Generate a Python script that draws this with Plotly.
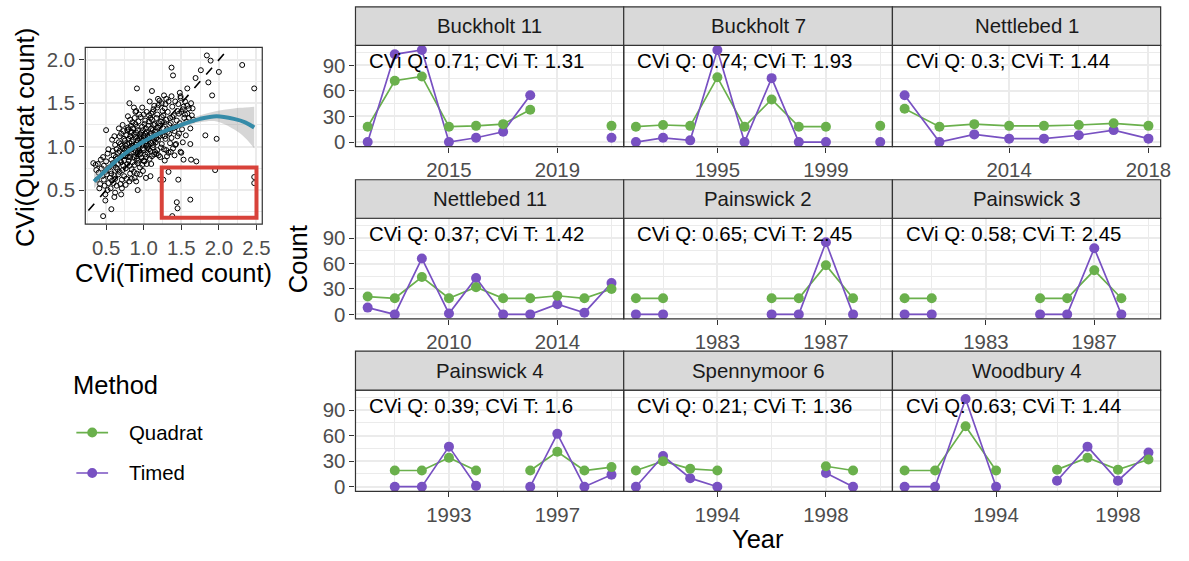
import plotly.graph_objects as go

# ---------------------------------------------------------------- data
SITES = ["Buckholt 11", "Buckholt 7", "Nettlebed 1",
         "Nettlebed 11", "Painswick 2", "Painswick 3",
         "Painswick 4", "Spennymoor 6", "Woodbury 4"]
CVI_Q = [0.71, 0.74, 0.3, 0.37, 0.65, 0.58, 0.39, 0.21, 0.63]
CVI_T = [1.31, 1.93, 1.44, 1.42, 2.45, 2.45, 1.6, 1.36, 1.44]

BUCKHOLT_11_YEARS = [2012, 2013, 2014, 2015, 2016, 2017, 2018, 2019, 2020, 2021]
BUCKHOLT_11_Q = [18, 72, 77, 18, 19, 21, 38, None, None, 19]
BUCKHOLT_11_T = [0, 103, 108, 0, 5, 12, 55, None, None, 5]

BUCKHOLT_7_YEARS = [1992, 1993, 1994, 1995, 1996, 1997, 1998, 1999, 2000, 2001]
BUCKHOLT_7_Q = [18, 20, 19, 76, 18, 50, 18, 18, None, 19]
BUCKHOLT_7_T = [0, 5, 2, 108, 0, 75, 0, 0, None, 0]

NETTLEBED_1_YEARS = [2011, 2012, 2013, 2014, 2015, 2016, 2017, 2018]
NETTLEBED_1_Q = [39, 18, 21, 19, 19, 20, 22, 19]
NETTLEBED_1_T = [55, 0, 9, 4, 4, 8, 14, 4]

NETTLEBED_11_YEARS = [2007, 2008, 2009, 2010, 2011, 2012, 2013, 2014, 2015, 2016]
NETTLEBED_11_Q = [21, 19, 44, 19, 32, 19, 19, 22, 19, 30]
NETTLEBED_11_T = [8, 0, 66, 1, 43, 0, 0, 12, 2, 37]

PAINSWICK_2_YEARS = [1980, 1981, 1982, 1983, 1984, 1985, 1986, 1987, 1988, 1989]
PAINSWICK_2_Q = [19, 19, None, None, None, 19, 19, 58, 19, None]
PAINSWICK_2_T = [0, 0, None, None, None, 0, 0, 85, 0, None]

PAINSWICK_3_YEARS = [1980, 1981, 1982, 1983, 1984, 1985, 1986, 1987, 1988, 1989]
PAINSWICK_3_Q = [19, 19, None, None, None, 19, 19, 52, 19, None]
PAINSWICK_3_T = [0, 0, None, None, None, 0, 0, 78, 0, None]

PAINSWICK_4_YEARS = [1990, 1991, 1992, 1993, 1994, 1995, 1996, 1997, 1998, 1999]
PAINSWICK_4_Q = [None, 19, 19, 34, 19, None, 19, 41, 19, 23]
PAINSWICK_4_T = [None, 0, 0, 47, 1, None, 0, 62, 0, 14]

SPENNYMOOR_6_YEARS = [1991, 1992, 1993, 1994, 1995, 1996, 1997, 1998, 1999, 2000]
SPENNYMOOR_6_Q = [19, 30, 21, 19, None, None, None, 24, 19, None]
SPENNYMOOR_6_T = [0, 36, 10, 0, None, None, None, 16, 0, None]

WOODBURY_4_YEARS = [1991, 1992, 1993, 1994, 1995, 1996, 1997, 1998, 1999]
WOODBURY_4_Q = [19, 19, 71, 19, None, 20, 34, 20, 32]
WOODBURY_4_T = [0, 0, 103, 0, None, 7, 47, 7, 40]

YEAR_TICKS = [[2015, 2019], [1995, 1999], [2014, 2018],
              [2010, 2014], [1983, 1987], [1983, 1987],
              [1993, 1997], [1994, 1998], [1994, 1998]]
COUNT_TICKS = [0, 30, 60, 90]

# CVi per site: (timed count, quadrat count)
CVI_PAIRS = [
    (1.84, 2.05), (1.89, 1.99), (2.31, 1.94), (1.37, 1.91), (1.39, 1.82), (1.76, 1.88),
    (2.47, 1.67), (2.00, 1.86), (1.86, 1.74), (0.91, 1.67), (1.11, 1.64), (1.69, 1.79),
    (1.58, 1.67), (1.27, 1.59), (1.91, 1.59), (1.49, 1.58),
    (1.82, 1.13), (1.97, 1.09), (1.62, 1.03), (1.53, 0.85), (1.63, 0.85), (1.70, 0.83),
    (1.33, 0.71), (1.95, 0.73), (1.22, 0.62), (1.26, 0.62), (1.46, 0.62), (2.47, 0.65),
    (2.47, 0.58), (1.44, 0.36), (1.45, 0.29), (1.62, 0.39), (1.38, 0.20),
    (0.76, 0.56), (0.46, 0.20), (0.57, 0.28), (0.49, 0.38), (0.61, 0.42), (0.70, 0.45),
    (0.92, 0.50), (0.33, 0.81), (0.39, 0.80), (0.50, 1.19), (0.81, 1.50), (0.89, 1.40),
    (0.36, 0.79), (0.38, 0.62), (0.40, 0.70), (0.42, 0.57), (0.44, 0.75), (0.45, 0.66),
    (0.37, 0.73), (0.43, 0.85), (0.41, 0.52),
    (0.47, 0.62), (0.48, 0.55), (0.49, 0.71), (0.50, 0.83), (0.51, 0.68), (0.52, 0.92),
    (0.53, 0.58), (0.54, 0.76), (0.46, 0.88), (0.52, 0.50), (0.55, 0.64), (0.49, 0.45),
    (0.53, 0.97), (0.47, 0.78),
    (0.56, 0.72), (0.57, 0.85), (0.58, 0.61), (0.59, 0.95), (0.60, 0.79), (0.61, 0.67),
    (0.62, 1.02), (0.63, 0.88), (0.64, 0.55), (0.65, 0.74), (0.56, 0.52), (0.58, 1.08),
    (0.60, 0.90), (0.62, 0.63), (0.64, 0.97), (0.57, 0.69), (0.59, 0.81), (0.61, 1.12),
    (0.63, 0.76), (0.65, 0.86), (0.60, 0.58), (0.62, 0.47),
    (0.66, 0.93), (0.67, 1.05), (0.68, 0.71), (0.69, 0.84), (0.70, 1.15), (0.71, 0.62),
    (0.72, 0.98), (0.73, 0.78), (0.74, 1.09), (0.75, 0.89), (0.66, 0.68), (0.67, 1.21),
    (0.68, 0.95), (0.69, 0.57), (0.70, 0.82), (0.71, 1.01), (0.72, 0.73), (0.73, 1.18),
    (0.74, 0.66), (0.75, 0.96), (0.68, 1.12), (0.70, 0.88), (0.72, 1.25), (0.74, 0.84),
    (0.66, 0.80), (0.71, 0.52), (0.73, 0.92), (0.69, 1.03), (0.75, 1.07),
    (0.76, 0.75), (0.77, 1.13), (0.78, 0.92), (0.79, 1.22), (0.80, 0.84), (0.81, 1.04),
    (0.82, 0.69), (0.83, 1.16), (0.84, 0.97), (0.85, 1.28), (0.76, 1.01), (0.77, 0.63),
    (0.78, 1.19), (0.79, 0.88), (0.80, 1.09), (0.81, 0.78), (0.82, 1.31), (0.83, 0.93),
    (0.84, 1.06), (0.85, 0.82), (0.76, 0.90), (0.78, 1.03), (0.80, 0.96), (0.82, 1.12),
    (0.84, 0.74), (0.79, 1.35), (0.81, 0.60), (0.83, 1.24), (0.77, 0.98), (0.85, 1.01),
    (0.80, 1.20), (0.82, 0.88), (0.78, 0.80), (0.84, 1.17),
    (0.86, 0.94), (0.87, 1.14), (0.88, 0.79), (0.89, 1.26), (0.90, 1.02), (0.91, 0.86),
    (0.92, 1.19), (0.93, 0.99), (0.94, 1.37), (0.95, 0.91), (0.86, 1.08), (0.87, 0.71),
    (0.88, 1.33), (0.89, 0.96), (0.90, 1.16), (0.91, 1.04), (0.92, 0.81), (0.93, 1.29),
    (0.94, 1.10), (0.95, 0.76), (0.86, 1.21), (0.88, 1.00), (0.90, 0.89), (0.92, 1.07),
    (0.94, 0.95), (0.87, 0.88), (0.89, 1.11), (0.91, 1.23), (0.93, 0.84), (0.95, 1.14),
    (0.88, 0.64), (0.90, 1.41), (0.92, 0.93), (0.94, 1.02), (0.86, 0.99), (0.91, 0.69),
    (0.87, 1.45), (0.90, 0.60), (0.95, 0.68), (0.84, 0.63),
    (0.96, 1.05), (0.97, 0.87), (0.98, 1.23), (0.99, 0.98), (1.00, 1.12), (1.01, 0.83),
    (1.02, 1.30), (1.03, 1.01), (1.04, 1.17), (1.05, 0.93), (0.96, 1.34), (0.97, 1.09),
    (0.98, 0.79), (0.99, 1.19), (1.00, 0.96), (1.01, 1.26), (1.02, 1.06), (1.03, 0.88),
    (1.04, 1.40), (1.05, 1.13), (0.96, 0.93), (0.98, 1.02), (1.00, 1.37), (1.02, 0.91),
    (1.04, 1.03), (0.97, 1.16), (0.99, 0.72), (1.01, 1.08), (1.03, 1.21), (1.05, 0.99),
    (1.00, 0.84), (1.02, 1.15), (0.98, 1.45), (1.04, 0.80), (0.96, 1.12), (1.03, 0.64),
    (1.06, 1.24), (1.07, 0.97), (1.08, 1.13), (1.09, 1.33), (1.10, 1.04), (1.11, 0.89),
    (1.12, 1.19), (1.13, 1.43), (1.14, 1.08), (1.15, 0.94), (1.06, 1.01), (1.07, 1.29),
    (1.08, 0.86), (1.09, 1.15), (1.10, 1.38), (1.11, 1.10), (1.12, 0.99), (1.13, 1.25),
    (1.14, 1.47), (1.15, 1.17), (1.06, 1.11), (1.08, 1.52), (1.10, 1.21), (1.12, 1.06),
    (1.14, 0.91), (1.07, 1.36), (1.09, 0.95), (1.11, 1.31), (1.13, 1.02), (1.15, 1.26),
    (1.10, 0.80), (1.12, 1.40), (1.09, 0.66),
    (1.16, 1.05), (1.17, 1.33), (1.18, 0.96), (1.19, 1.22), (1.20, 1.48), (1.21, 1.12),
    (1.22, 0.88), (1.23, 1.29), (1.24, 1.03), (1.25, 1.41), (1.16, 1.19), (1.17, 0.92),
    (1.18, 1.37), (1.19, 1.08), (1.20, 1.27), (1.21, 1.53), (1.22, 1.16), (1.23, 0.99),
    (1.24, 1.34), (1.25, 1.13), (1.18, 1.45), (1.20, 0.90), (1.22, 1.24), (1.24, 1.50),
    (1.17, 1.10), (1.19, 1.55),
    (1.26, 1.21), (1.27, 0.97), (1.28, 1.44), (1.29, 1.09), (1.30, 1.31), (1.31, 0.89),
    (1.32, 1.17), (1.33, 1.52), (1.34, 1.25), (1.35, 1.04), (1.26, 1.36), (1.28, 1.12),
    (1.30, 0.96), (1.32, 1.40), (1.34, 1.15), (1.27, 1.28), (1.29, 1.49), (1.31, 1.20),
    (1.33, 0.93), (1.35, 1.33), (1.28, 0.84), (1.30, 1.55),
    (1.36, 1.27), (1.37, 1.10), (1.38, 1.46), (1.39, 0.98), (1.40, 1.36), (1.41, 1.18),
    (1.42, 1.52), (1.43, 1.03), (1.44, 1.30), (1.45, 1.41), (1.37, 1.58), (1.39, 1.21),
    (1.41, 0.90), (1.43, 1.23), (1.45, 1.12), (1.38, 1.34), (1.42, 1.02), (1.36, 0.94),
    (1.46, 1.49), (1.48, 1.27), (1.50, 1.40), (1.52, 1.05), (1.54, 1.33), (1.47, 1.15),
    (1.49, 1.56), (1.51, 1.20), (1.53, 1.46), (1.55, 1.37), (1.50, 0.93), (1.48, 1.62),
    (1.52, 1.43), (1.47, 1.38), (1.49, 0.94),
    (1.57, 1.29), (1.60, 1.44), (1.63, 1.50), (1.58, 1.38), (1.62, 1.21), (1.66, 1.31),
    (1.56, 1.13), (1.65, 1.44), (1.58, 1.47), (1.64, 1.36), (1.55, 1.52), (1.60, 1.33),
]

# loess fit of quadrat CVi on timed CVi, with its 95% band
LOESS_X = [0.34, 0.50, 0.65, 0.80, 1.00, 1.15, 1.31, 1.53, 1.75, 1.97, 2.20, 2.35, 2.47]
LOESS_Y = [0.60, 0.73, 0.85, 0.95, 1.06, 1.13, 1.19, 1.26, 1.32, 1.35, 1.32, 1.28, 1.22]
LOESS_LOW = [0.52, 0.68, 0.82, 0.93, 1.04, 1.11, 1.17, 1.23, 1.28, 1.29, 1.20, 1.10, 0.98]
LOESS_HIGH = [0.69, 0.78, 0.88, 0.97, 1.08, 1.15, 1.21, 1.29, 1.36, 1.41, 1.44, 1.45, 1.46]

# outlier box: sites with high timed-count CVi but low quadrat CVi
BOX_TIMED = [1.24, 2.50]
BOX_QUADRAT = [0.18, 0.76]

CVI_X_TICKS = [0.5, 1.0, 1.5, 2.0, 2.5]
CVI_Y_TICKS = [0.5, 1.0, 1.5, 2.0]

# ---------------------------------------------------------------- style
W, H = 1189, 561
GREEN = "#6AB04C"
PURPLE = "#7851C2"
DARK = "#333333"
GRID = "#EBEBEB"
FONT = "Liberation Sans, Arial, Helvetica, sans-serif"
SMALL = 20.4
BIG = 25.5
TICKFONT = dict(family=FONT, size=SMALL, color="#4D4D4D")
TITLE_FONT = dict(family=FONT, size=BIG, color="black")
LABEL_Y = 95

COL_PX = [(358.5, 629.0), (629.0, 900.0), (900.0, 1170.5)]
STRIP_PX = [(7.0, 46.0), (182.0, 221.0), (355.5, 395.0)]
PANEL_PX = [(46.0, 148.5), (221.0, 323.0), (395.0, 497.5)]
SCATTER_X_PX = (86.0, 264.5)
SCATTER_Y_PX = (48.0, 227.0)


def dom_x(a, b):
    return [a / W, b / W]


def dom_y(top, bottom):
    return [1 - bottom / H, 1 - top / H]


def border(x0, x1, top, bottom, **extra):
    return dict(type="rect", xref="paper", yref="paper",
                x0=x0 / W, x1=x1 / W, y0=1 - bottom / H, y1=1 - top / H,
                line=dict(color=DARK, width=1.2), layer="above", **extra)


def axis_style(majors, minors, **extra):
    return dict(
        tickmode="array", tickvals=majors,
        ticks="outside", ticklen=5, tickwidth=1.1, tickcolor=DARK,
        showline=False, showgrid=True, gridcolor=GRID, gridwidth=1.5,
        minor=dict(tickmode="array", tickvals=minors, showgrid=True,
                   gridcolor=GRID, gridwidth=0.8, ticks=""),
        zeroline=False, tickfont=TICKFONT, fixedrange=True, **extra)


PANEL_YEARS = [BUCKHOLT_11_YEARS, BUCKHOLT_7_YEARS, NETTLEBED_1_YEARS,
               NETTLEBED_11_YEARS, PAINSWICK_2_YEARS, PAINSWICK_3_YEARS,
               PAINSWICK_4_YEARS, SPENNYMOOR_6_YEARS, WOODBURY_4_YEARS]
PANEL_Q = [BUCKHOLT_11_Q, BUCKHOLT_7_Q, NETTLEBED_1_Q,
           NETTLEBED_11_Q, PAINSWICK_2_Q, PAINSWICK_3_Q,
           PAINSWICK_4_Q, SPENNYMOOR_6_Q, WOODBURY_4_Q]
PANEL_T = [BUCKHOLT_11_T, BUCKHOLT_7_T, NETTLEBED_1_T,
           NETTLEBED_11_T, PAINSWICK_2_T, PAINSWICK_3_T,
           PAINSWICK_4_T, SPENNYMOOR_6_T, WOODBURY_4_T]

all_counts = [v for series in PANEL_Q + PANEL_T for v in series if v is not None]
ymax = max(all_counts)
y_range = [-0.05 * ymax, 1.05 * ymax]
y_minor = [t + 15 for t in COUNT_TICKS]

fig = go.Figure()
layout = dict(
    width=W, height=H, autosize=False,
    margin=dict(l=0, r=0, t=0, b=0),
    paper_bgcolor="white", plot_bgcolor="white",
    showlegend=False,
    font=dict(family=FONT, color="black"),
)
shapes = []
annotations = []

# ---------------------------------------------------------------- facets
for i, site in enumerate(SITES):
    r, c = divmod(i, 3)
    ax = "" if i == 0 else str(i + 1)
    xa, ya = "x" + ax, "y" + ax
    years = PANEL_YEARS[i]
    lo, hi = min(years), max(years)
    pad = 0.05 * (hi - lo)
    majors = YEAR_TICKS[i]
    minors = [m - 2 for m in majors] + [majors[-1] + 2]
    minors = [m for m in minors if lo - pad <= m <= hi + pad]

    layout["xaxis" + ax] = axis_style(
        majors, minors, domain=dom_x(*COL_PX[c]), range=[lo - pad, hi + pad],
        anchor=ya, ticktext=[str(m) for m in majors])
    yax = axis_style(COUNT_TICKS, y_minor, domain=dom_y(*PANEL_PX[r]),
                     range=y_range, anchor=xa, showticklabels=(c == 0))
    if c != 0:
        yax["ticks"] = ""
    layout["yaxis" + ax] = yax

    for vals, col in ((PANEL_Q[i], GREEN), (PANEL_T[i], PURPLE)):
        fig.add_trace(go.Scatter(
            x=years, y=vals, mode="lines", connectgaps=False,
            line=dict(color=col, width=1.7), xaxis=xa, yaxis=ya,
            hoverinfo="skip"))
    for vals, col in ((PANEL_T[i], PURPLE), (PANEL_Q[i], GREEN)):
        fig.add_trace(go.Scatter(
            x=years, y=vals, mode="markers",
            marker=dict(color=col, size=10, line=dict(width=0)),
            xaxis=xa, yaxis=ya, hoverinfo="skip"))

    x0, x1 = COL_PX[c]
    s0, s1 = STRIP_PX[r]
    p0, p1 = PANEL_PX[r]
    shapes.append(border(x0, x1, p0, p1))
    shapes.append(border(x0, x1, s0, s1, fillcolor="#D9D9D9"))
    annotations.append(dict(xref="paper", yref="paper",
                            x=(x0 + x1) / 2 / W, y=1 - (s0 + s1) / 2 / H,
                            text=site, showarrow=False,
                            xanchor="center", yanchor="middle",
                            font=dict(family=FONT, size=SMALL, color="#1A1A1A")))
    annotations.append(dict(xref=xa, yref=ya, x=years[0], y=LABEL_Y,
                            text=f"CVi Q: {CVI_Q[i]}; CVi T: {CVI_T[i]}",
                            showarrow=False, xanchor="left", yanchor="middle",
                            borderpad=0,
                            font=dict(family=FONT, size=SMALL, color="black")))

# ---------------------------------------------------------------- CVi scatter
cvi_timed = [p[0] for p in CVI_PAIRS]
cvi_quadrat = [p[1] for p in CVI_PAIRS]
sx_lo, sx_hi = min(cvi_timed), max(cvi_timed)
sy_lo, sy_hi = min(cvi_quadrat), max(cvi_quadrat)
sx_range = [sx_lo - 0.05 * (sx_hi - sx_lo), sx_hi + 0.05 * (sx_hi - sx_lo)]
sy_range = [sy_lo - 0.05 * (sy_hi - sy_lo), sy_hi + 0.05 * (sy_hi - sy_lo)]
sx_minor = [t - 0.25 for t in CVI_X_TICKS] + [CVI_X_TICKS[-1] + 0.25]
sy_minor = [t - 0.25 for t in CVI_Y_TICKS] + [CVI_Y_TICKS[-1] + 0.25]

layout["xaxis10"] = axis_style(CVI_X_TICKS, sx_minor, domain=dom_x(*SCATTER_X_PX),
                               range=sx_range, anchor="y10", tickformat=".1f")
layout["yaxis10"] = axis_style(CVI_Y_TICKS, sy_minor, domain=dom_y(*SCATTER_Y_PX),
                               range=sy_range, anchor="x10", tickformat=".1f")
shapes.append(border(SCATTER_X_PX[0], SCATTER_X_PX[1], SCATTER_Y_PX[0], SCATTER_Y_PX[1]))

# 1:1 reference line
one_to_one = [min(sx_range[0], sy_range[0]), max(sx_range[1], sy_range[1])]
fig.add_trace(go.Scatter(x=one_to_one, y=one_to_one, mode="lines",
                         line=dict(color="black", width=1.6, dash="dash"),
                         xaxis="x10", yaxis="y10", hoverinfo="skip"))
fig.add_trace(go.Scatter(x=cvi_timed, y=cvi_quadrat, mode="markers",
                         marker=dict(symbol="circle-open", size=5, color="black",
                                     line=dict(width=1.0)),
                         xaxis="x10", yaxis="y10", hoverinfo="skip"))
fig.add_trace(go.Scatter(x=LOESS_X, y=LOESS_LOW, mode="lines",
                         line=dict(width=0, shape="spline"),
                         xaxis="x10", yaxis="y10", hoverinfo="skip"))
fig.add_trace(go.Scatter(x=LOESS_X, y=LOESS_HIGH, mode="lines",
                         line=dict(width=0, shape="spline"), fill="tonexty",
                         fillcolor="rgba(153,153,153,0.4)",
                         xaxis="x10", yaxis="y10", hoverinfo="skip"))
fig.add_trace(go.Scatter(x=LOESS_X, y=LOESS_Y, mode="lines",
                         line=dict(color="#358BA8", width=4, shape="spline"),
                         xaxis="x10", yaxis="y10", hoverinfo="skip"))
shapes.append(dict(type="rect", xref="x10", yref="y10",
                   x0=BOX_TIMED[0], x1=BOX_TIMED[1],
                   y0=BOX_QUADRAT[0], y1=BOX_QUADRAT[1],
                   line=dict(color="#D8423A", width=4), layer="above"))

# ---------------------------------------------------------------- titles
annotations += [
    dict(xref="paper", yref="paper", x=25 / W, y=1 - 139 / H,
         text="CVi(Quadrat count)", textangle=-90, showarrow=False,
         xanchor="center", yanchor="middle", font=TITLE_FONT),
    dict(xref="paper", yref="paper", x=175 / W, y=1 - 276 / H,
         text="CVi(Timed count)", showarrow=False,
         xanchor="center", yanchor="middle", font=TITLE_FONT),
    dict(xref="paper", yref="paper", x=300 / W, y=1 - 262 / H,
         text="Count", textangle=-90, showarrow=False,
         xanchor="center", yanchor="middle", font=TITLE_FONT),
    dict(xref="paper", yref="paper", x=764.5 / W, y=1 - 546 / H,
         text="Year", showarrow=False,
         xanchor="center", yanchor="middle", font=TITLE_FONT),
]

# ---------------------------------------------------------------- legend
annotations.append(dict(xref="paper", yref="paper", x=73 / W, y=1 - 390 / H,
                        text="Method", showarrow=False, xanchor="left",
                        yanchor="middle", borderpad=0, font=TITLE_FONT))
for label, col, ky in (("Quadrat", GREEN, 438.0), ("Timed", PURPLE, 479.0)):
    shapes.append(dict(type="line", xref="paper", yref="paper",
                       x0=77 / W, x1=109 / W, y0=1 - ky / H, y1=1 - ky / H,
                       line=dict(color=col, width=1.7), layer="above"))
    shapes.append(dict(type="circle", xref="paper", yref="paper",
                       x0=88 / W, x1=98 / W, y0=1 - (ky + 5) / H, y1=1 - (ky - 5) / H,
                       fillcolor=col, line=dict(width=0), layer="above"))
    annotations.append(dict(xref="paper", yref="paper", x=129 / W, y=1 - ky / H,
                            text=label, showarrow=False, xanchor="left",
                            yanchor="middle", borderpad=0,
                            font=dict(family=FONT, size=SMALL, color="black")))

layout["shapes"] = shapes
layout["annotations"] = annotations
fig.update_layout(**layout)
fig.write_html("out.html")
